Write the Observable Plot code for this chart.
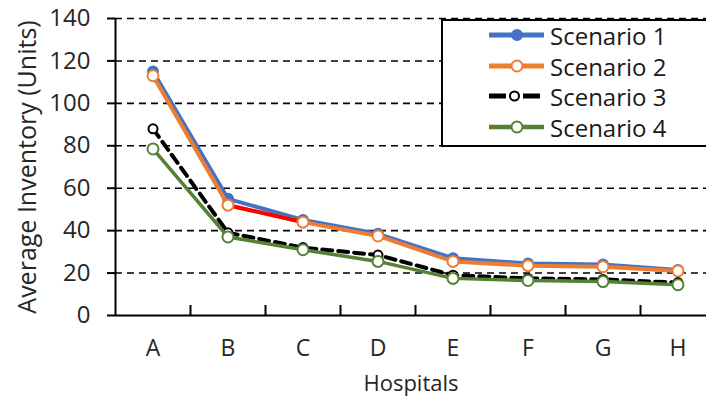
<!DOCTYPE html>
<html>
<head>
<meta charset="utf-8">
<script src="https://cdn.jsdelivr.net/npm/d3@7"></script>
<script src="https://cdn.jsdelivr.net/npm/@observablehq/plot@0.6"></script>
<style>
  html, body { margin: 0; padding: 0; background: #fff; }
  #wrap { position: relative; width: 706px; height: 398px; overflow: hidden; }
  #legend { position: absolute; left: 441px; top: 19px; width: 280px; height: 124px;
    border: 2px solid #000; background: #fff; box-sizing: content-box; }
  #legend .row { position: absolute; left: 0; height: 30px; display: flex; align-items: center; }
  #legend .row span { font-family: "Open Sans", sans-serif; font-size: 24px; color: #1a1a1a; margin-left: 2px; }
</style>
</head>
<body>
<div id="wrap"><div id="chart"></div><div id="legend"></div></div>
<script>
const hospitals = ["A", "B", "C", "D", "E", "F", "G", "H"];
const scenario1 = [115, 55, 45, 38.5, 27, 24.5, 24, 21.5];
const scenario2 = [113, 52, 44, 37.5, 25.5, 23.5, 23, 21];
const scenario3 = [88, 39, 32, 28.5, 19, 17.5, 17, 15.5];
const scenario4 = [78.5, 37, 31, 25.5, 17.5, 16.5, 16, 14.5];
const highlight = [{h: "B", v: 52}, {h: "C", v: 44}];
const yTicks = [0, 20, 40, 60, 80, 100, 120, 140];
const seriesNames = ["Scenario 1", "Scenario 2", "Scenario 3", "Scenario 4"];

const idx = h => hospitals.indexOf(h);
const rows = (vals) => hospitals.map((h, i) => ({i, v: vals[i]}));
const s1 = rows(scenario1), s2 = rows(scenario2), s3 = rows(scenario3), s4 = rows(scenario4);
const red = highlight.map(d => ({i: idx(d.h), v: d.v}));
const bounds = hospitals.map((h, i) => i + 0.5);

const styles = [
  {stroke: "#4472C4", width: 4, dash: null, fill: "#4472C4", r: 5},
  {stroke: "#ED7D31", width: 4, dash: null, fill: "#fff", r: 5.5},
  {stroke: "#000000", width: 4, dash: "10,6", fill: "#fff", r: 4.5},
  {stroke: "#548235", width: 3.5, dash: null, fill: "#fff", r: 5.5}
];

const lineMarks = (data, s) => [
  Plot.line(data, {x: "i", y: "v", stroke: s.stroke, strokeWidth: s.width, strokeDasharray: s.dash}),
  Plot.dot(data, {x: "i", y: "v", r: s.r, fill: s.fill, stroke: s.stroke, strokeWidth: 2})
];

const chart = Plot.plot({
  width: 706,
  height: 398,
  marginLeft: 115,
  marginRight: 0,
  marginTop: 18,
  marginBottom: 83,
  style: {fontFamily: "Open Sans, sans-serif", fontSize: "24px", color: "#262626", background: "#fff"},
  x: {type: "linear", domain: [-0.5, hospitals.length - 0.5], range: [115, 715]},
  y: {domain: [0, 140]},
  marks: [
    Plot.ruleY(yTicks.filter(d => d > 0), {stroke: "#000", strokeWidth: 1.6, strokeDasharray: "7,5"}),
    Plot.axisY({ticks: yTicks, tickSize: 8, tickPadding: 17, tickFormat: d => d, label: null, stroke: "#000", strokeWidth: 2}),
    Plot.axisX({ticks: hospitals.map((h, i) => i), tickFormat: i => hospitals[i], tickSize: 0, tickPadding: 24, fontSize: 23, label: null}),
    Plot.ruleX(bounds, {insetTop: 287, stroke: "#000", strokeWidth: 2}),
    Plot.ruleX([-0.5], {stroke: "#000", strokeWidth: 2}),
    Plot.ruleY([0], {stroke: "#000", strokeWidth: 2}),
    ...lineMarks(s1, styles[0]),
    Plot.line(s2, {x: "i", y: "v", stroke: styles[1].stroke, strokeWidth: styles[1].width}),
    Plot.line(red, {x: "i", y: "v", stroke: "#FF0000", strokeWidth: 4}),
    Plot.dot(s2, {x: "i", y: "v", r: styles[1].r, fill: "#fff", stroke: styles[1].stroke, strokeWidth: 2}),
    ...lineMarks(s3, styles[2]),
    ...lineMarks(s4, styles[3]),
    Plot.text(["Hospitals"], {frameAnchor: "bottom", lineAnchor: "middle", textAnchor: "middle", dy: 68, fontSize: 22}),
    Plot.text(["Average Inventory (Units)"], {frameAnchor: "left", textAnchor: "middle", lineAnchor: "middle", rotate: -90, dx: -88, fontSize: 25})
  ]
});
document.getElementById("chart").appendChild(chart);

// legend
const legend = document.getElementById("legend");
const rowTops = [-1, 30, 60, 91];
seriesNames.forEach((name, k) => {
  const s = styles[k];
  const row = document.createElement("div");
  row.className = "row";
  row.style.top = rowTops[k] + "px";
  const svg = d3.create("svg").attr("width", 105).attr("height", 30);
  const segs = s.dash ? [[46, 63], [80, 97]] : [[46, 101]];
  segs.forEach(([a, b]) => svg.append("line").attr("x1", a).attr("x2", b).attr("y1", 15).attr("y2", 15)
    .attr("stroke", s.stroke).attr("stroke-width", s.width + 1));
  const cx = s.dash ? 71.5 : 74;
  svg.append("circle").attr("cx", cx).attr("cy", 15).attr("r", s.r)
    .attr("fill", s.fill).attr("stroke", s.stroke).attr("stroke-width", 2);
  row.appendChild(svg.node());
  const t = document.createElement("span");
  t.textContent = name;
  row.appendChild(t);
  legend.appendChild(row);
});
</script>
</body>
</html>
